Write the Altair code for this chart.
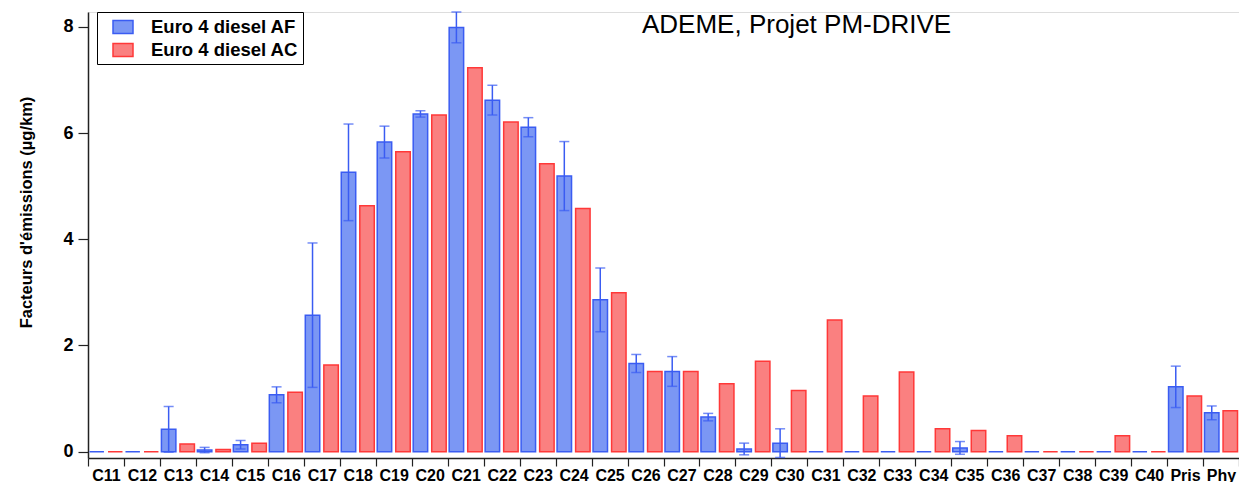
import altair as alt
import pandas as pd

categories = ["C11", "C12", "C13", "C14", "C15", "C16", "C17", "C18", "C19", "C20",
              "C21", "C22", "C23", "C24", "C25", "C26", "C27", "C28", "C29", "C30",
              "C31", "C32", "C33", "C34", "C35", "C36", "C37", "C38", "C39", "C40",
              "Pris", "Phy"]
series_names = ["Euro 4 diesel AF", "Euro 4 diesel AC"]

af_values = [0, 0, 0.42, 0.03, 0.13, 1.07, 2.57, 5.26, 5.83, 6.36,
             7.99, 6.62, 6.11, 5.19, 2.86, 1.66, 1.51, 0.65, 0.05, 0.16,
             0, 0, 0, 0, 0.07, 0, 0, 0, 0, 0,
             1.22, 0.73]
af_errors = [0, 0, 0.43, 0.05, 0.08, 0.15, 1.36, 0.91, 0.30, 0.06,
             0.29, 0.28, 0.18, 0.65, 0.60, 0.17, 0.28, 0.07, 0.11, 0.27,
             0, 0, 0, 0, 0.12, 0, 0, 0, 0, 0,
             0.39, 0.13]
ac_values = [0, 0, 0.145, 0.04, 0.16, 1.12, 1.63, 4.63, 5.65, 6.34,
             7.23, 6.21, 5.42, 4.58, 2.99, 1.51, 1.51, 1.28, 1.70, 1.15,
             2.48, 1.05, 1.50, 0.43, 0.40, 0.30, 0, 0, 0.30, 0,
             1.05, 0.77]

fill_colors = ["#7b97f4", "#fa8080"]
stroke_colors = ["#3a5cf2", "#ff3838"]
annotation = "ADEME, Projet PM-DRIVE"
y_title = "Facteurs d'émissions (µg/km)"

rows = []
for c, a, b in zip(categories, af_values, ac_values):
    rows.append({"cat": c, "series": series_names[0], "value": a})
    rows.append({"cat": c, "series": series_names[1], "value": b})
df = pd.DataFrame(rows)

err_rows = []
for c, v, e in zip(categories, af_values, af_errors):
    if e > 0:
        err_rows.append({"cat": c, "series": series_names[0], "lo": v - e, "hi": v + e})
err_df = pd.DataFrame(err_rows)

FONT = "Liberation Sans"

x_enc = alt.X("cat:N", sort=categories,
              scale=alt.Scale(domain=categories, paddingInner=0, paddingOuter=0),
              axis=alt.Axis(title=None, labelAngle=0, labelFont=FONT, labelFontSize=16,
                            labelFontWeight="bold", labelColor="black", tickBand="extent",
                            tickSize=8, labelPadding=1, domainColor="#222", tickColor="#222",
                            domainWidth=1.5, tickWidth=1.2, grid=False))
xoff_enc = alt.XOffset("series:N", sort=series_names,
                       scale=alt.Scale(domain=series_names, paddingInner=0.22, paddingOuter=0.08))
y_scale = alt.Scale(domain=[-0.12, 8.28], nice=False, zero=False)
y_axis = alt.Axis(values=[0, 2, 4, 6, 8], format="d", title=y_title, titleFont=FONT,
                  titleFontSize=16.5, titleFontWeight="bold", titleColor="black",
                  titleX=-62, titleY=200, titleAlign="center", titleBaseline="middle",
                  labelFont=FONT, labelFontSize=18, labelFontWeight="bold", labelColor="black",
                  labelPadding=5, tickSize=10, grid=False, domainColor="#222",
                  tickColor="#222", domainWidth=1.5, tickWidth=1.2)

legend = alt.Legend(title=None, orient="none", legendX=9, legendY=0,
                    symbolType="M-1,-0.65H1V0.65H-1Z", symbolSize=400, symbolStrokeWidth=1.5,
                    labelFont=FONT, labelFontSize=18.5, labelFontWeight="bold", labelColor="black",
                    padding=4, rowPadding=2, labelOffset=17, symbolOffset=11,
                    strokeColor="black", fillColor="white")

bars = alt.Chart(df).mark_bar(strokeWidth=1.5).encode(
    x=x_enc,
    xOffset=xoff_enc,
    y=alt.Y("value:Q", scale=y_scale, axis=y_axis),
    y2=alt.datum(0),
    fill=alt.Fill("series:N", sort=series_names,
                  scale=alt.Scale(domain=series_names, range=fill_colors), legend=legend),
    stroke=alt.Stroke("series:N", sort=series_names,
                      scale=alt.Scale(domain=series_names, range=stroke_colors), legend=legend),
)

err_rule = alt.Chart(err_df).mark_rule(color=stroke_colors[0], strokeWidth=1.5).encode(
    x=alt.X("cat:N", sort=categories),
    xOffset=alt.XOffset("series:N", sort=series_names),
    y=alt.Y("lo:Q"),
    y2="hi:Q",
)
cap_hi = alt.Chart(err_df).mark_tick(color=stroke_colors[0], size=10, thickness=1.5,
                                     orient="horizontal").encode(
    x=alt.X("cat:N", sort=categories),
    xOffset=alt.XOffset("series:N", sort=series_names),
    y=alt.Y("hi:Q"),
)
cap_lo = alt.Chart(err_df).mark_tick(color=stroke_colors[0], size=10, thickness=1.5,
                                     orient="horizontal").encode(
    x=alt.X("cat:N", sort=categories),
    xOffset=alt.XOffset("series:N", sort=series_names),
    y=alt.Y("lo:Q"),
)

note = alt.Chart(pd.DataFrame({"t": [annotation]})).mark_text(
    align="left", baseline="alphabetic", fontSize=26, font=FONT, color="black"
).encode(x=alt.value(554), y=alt.value(21), text="t:N")

chart = alt.layer(bars, err_rule, cap_hi, cap_lo, note).properties(
    width=1151, height=446,
    autosize=alt.AutoSizeParams(type="none"),
    padding={"left": 80, "top": 4, "right": 0, "bottom": 24},
).configure_view(stroke=None).configure(background="white")

chart.save("out.html", embed_options={"renderer": "svg", "actions": False})
